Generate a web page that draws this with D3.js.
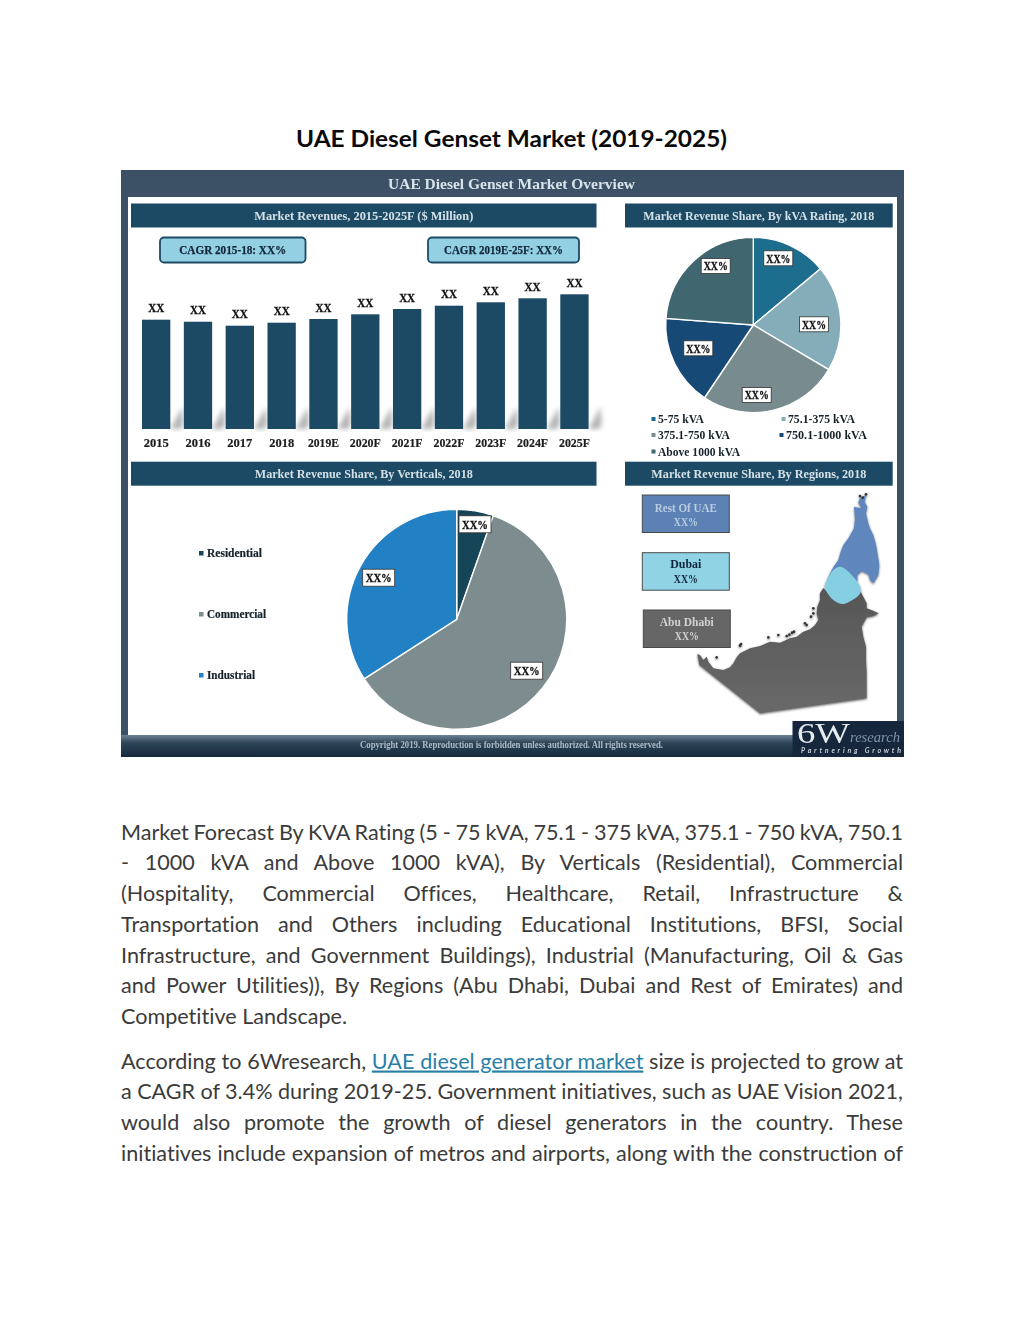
<!DOCTYPE html>
<html>
<head>
<meta charset="utf-8">
<title>UAE Diesel Genset Market (2019-2025)</title>
<script src="https://cdnjs.cloudflare.com/ajax/libs/d3/7.8.5/d3.min.js"></script>
<style>
  html, body { margin: 0; padding: 0; background: #fff; }
  svg { display: block; }
  text { font-variant-ligatures: none; }
</style>
</head>
<body>
<div id="wrapper"></div>
<script>
const years = ["2015", "2016", "2017", "2018", "2019E", "2020F", "2021F", "2022F", "2023F", "2024F", "2025F"];
const revenues = [109.3, 107.3, 103.3, 106.3, 110, 114.7, 120, 123.3, 126.7, 130.7, 134.7];

const kvaRatings = ["5-75 kVA", "75.1-375 kVA", "375.1-750 kVA", "750.1-1000 kVA", "Above 1000 kVA"];
const kvaShares = [13.9, 19.6, 25.9, 16.8, 23.8];

const verticals = ["Residential", "Commercial", "Industrial"];
const verticalShares = [5.4, 60.5, 34.1];

const regions = ["Rest Of UAE", "Dubai", "Abu Dhabi"];

// map outlines, in map units (the scales further down place them)
const restOutline = [[750,113],[768,105],[764,125],[772,140],[768,160],[775,190],[780,205],[790,225],[797,250],[800,265],[808,315],[805,345],[790,370],[780,360],[775,343],[755,333],[742,345],[742,365],[700,323],[670,330],[645,375],[660,340],[672,318],[685,300],[692,275],[700,255],[715,235],[732,205],[735,175],[732,140],[755,145],[745,128]];
const dubaiOutline = [[645,375],[670,330],[700,323],[742,365],[752,395],[735,415],[700,432],[670,420],[650,395]];
const abuDhabiOutline = [[640,384],[650,395],[670,420],[700,432],[735,415],[752,395],[770,430],[770,445],[790,452],[806,460],[790,468],[770,472],[755,500],[760,530],[768,560],[768,600],[770,640],[770,715],[450,760],[268,615],[262,582],[270,585],[280,600],[290,590],[295,605],[310,625],[340,630],[360,622],[370,610],[380,592],[390,580],[420,565],[450,558],[480,545],[510,548],[540,535],[560,530],[580,515],[600,508],[615,495],[625,480],[620,460],[622,440],[630,420],[630,400]];
const islands = [[393,552],[390,557],[530,528],[538,524],[546,518],[585,490],[590,495],[475,532],[505,525],[610,445],[610,460],[603,470],[320,592],[552,515],[750,108],[758,113],[768,103]];

const bodyLines = [
  "Market Forecast By KVA Rating (5 - 75 kVA, 75.1 - 375 kVA, 375.1 - 750 kVA, 750.1",
  "- 1000 kVA and Above 1000 kVA), By Verticals (Residential), Commercial",
  "(Hospitality, Commercial Offices, Healthcare, Retail, Infrastructure &",
  "Transportation and Others including Educational Institutions, BFSI, Social",
  "Infrastructure, and Government Buildings), Industrial (Manufacturing, Oil & Gas",
  "and Power Utilities)), By Regions (Abu Dhabi, Dubai and Rest of Emirates) and"
];
const bodyLast = "Competitive Landscape.";
const secondLines = [
  "a CAGR of 3.4% during 2019-25. Government initiatives, such as UAE Vision 2021,",
  "would also promote the growth of diesel generators in the country. These",
  "initiatives include expansion of metros and airports, along with the construction of"
];

const navy = "#1b4a63";
const serif = "'Liberation Serif', serif";
const sans = "Lato, 'Open Sans', sans-serif";

const wrapper = d3.select("#wrapper").append("svg")
  .attr("width", 1024)
  .attr("height", 1325);

const defs = wrapper.append("defs");
defs.append("filter").attr("id", "soft")
  .append("feGaussianBlur").attr("stdDeviation", 0.55);
defs.append("filter").attr("id", "shade")
  .attr("x", "-50%").attr("width", "200%")
  .append("feGaussianBlur").attr("stdDeviation", 2.5);
defs.append("filter").attr("id", "mapShadow")
  .append("feDropShadow").attr("dx", 0).attr("dy", 1).attr("stdDeviation", 1).attr("flood-color", "#222").attr("flood-opacity", 0.7);
const footGrad = defs.append("linearGradient").attr("id", "foot").attr("x1", 0).attr("x2", 0).attr("y1", 0).attr("y2", 1);
footGrad.append("stop").attr("offset", 0).attr("stop-color", "#6d8397");
footGrad.append("stop").attr("offset", 0.35).attr("stop-color", "#2f4659");
footGrad.append("stop").attr("offset", 1).attr("stop-color", "#15283a");
const landGrad = defs.append("linearGradient").attr("id", "land").attr("x1", 0).attr("x2", 0).attr("y1", 0).attr("y2", 1);
landGrad.append("stop").attr("offset", 0).attr("stop-color", "#565656");
landGrad.append("stop").attr("offset", 1).attr("stop-color", "#696969");

// text squeezed to the width it has in the picture
function label(g, str, x, y, w, size, fill, anchor = "middle", family = serif, weight = "bold") {
  return g.append("text")
    .attr("x", x).attr("y", y)
    .attr("text-anchor", anchor)
    .attr("textLength", w)
    .attr("lengthAdjust", "spacingAndGlyphs")
    .attr("font-family", family)
    .attr("font-weight", weight)
    .attr("font-size", size)
    .attr("fill", fill)
    .text(str);
}

label(wrapper, "UAE Diesel Genset Market (2019-2025)", 296, 146.5, 431, 23.6, "#0a0a0a", "start", sans);

const info = wrapper.append("g").attr("filter", "url(#soft)");

// frame
info.append("rect").attr("x", 121).attr("y", 170).attr("width", 783).attr("height", 587).attr("fill", "#3c5166");
info.append("rect").attr("x", 128).attr("y", 197).attr("width", 769).attr("height", 538).attr("fill", "#fff");
info.append("rect").attr("x", 121).attr("y", 735).attr("width", 783).attr("height", 22).attr("fill", "url(#foot)");
label(info, "UAE Diesel Genset Market Overview", 511.5, 188.5, 247, 15, "#d9e3ea");
label(info, "Copyright 2019. Reproduction is forbidden unless authorized. All rights reserved.", 360, 748, 303, 9.5, "#aebcc7", "start");

// section headers
const headers = [
  { text: "Market Revenues, 2015-2025F ($ Million)", x: 131, y: 203.5, w: 465.5, tw: 219 },
  { text: "Market Revenue Share, By kVA Rating, 2018", x: 625, y: 203.5, w: 267.7, tw: 231 },
  { text: "Market Revenue Share, By Verticals, 2018", x: 131, y: 461.7, w: 465.5, tw: 218 },
  { text: "Market Revenue Share, By Regions, 2018", x: 625, y: 461.7, w: 267.7, tw: 215 }
];
headers.forEach(h => {
  info.append("rect").attr("x", h.x).attr("y", h.y).attr("width", h.w).attr("height", 24).attr("fill", navy);
  label(info, h.text, h.x + h.w / 2, h.y + 16, h.tw, 13, "#d5e1e8");
});

// CAGR pills
const pills = [
  { text: "CAGR 2015-18: XX%", x: 160, w: 145.5, tw: 107 },
  { text: "CAGR 2019E-25F: XX%", x: 428, w: 151, tw: 119 }
];
pills.forEach(p => {
  info.append("rect").attr("x", p.x).attr("y", 237.5).attr("width", p.w).attr("height", 25).attr("rx", 4)
    .attr("fill", "#93d0e3").attr("stroke", navy).attr("stroke-width", 1.8);
  label(info, p.text, p.x + p.w / 2, 254.2, p.tw, 12.5, "#12283a").attr("stroke", "#12283a").attr("stroke-width", 0.25);
});

// bars
const baseY = 429;
const xScale = d3.scaleBand().domain(years).range([142, 588.6]).paddingInner(0.323);
const yScale = d3.scaleLinear().domain([0, 140]).range([baseY, baseY - 140]);

const shadows = info.append("g").attr("filter", "url(#shade)");
shadows.selectAll("path").data(years).join("path")
  .attr("d", d => {
    const r = xScale(d) + xScale.bandwidth();
    return `M${r},${baseY}L${r + 12},${baseY - 22}L${r + 13},${baseY - 6}L${r + 11},${baseY}Z`;
  })
  .attr("fill", "#b4b4b4");

info.selectAll("rect.bar").data(revenues).join("rect")
  .attr("class", "bar")
  .attr("x", (d, i) => xScale(years[i]))
  .attr("y", d => yScale(d))
  .attr("width", xScale.bandwidth())
  .attr("height", d => baseY - yScale(d))
  .attr("fill", navy);

revenues.forEach((d, i) => {
  label(info, "XX", xScale(years[i]) + xScale.bandwidth() / 2, yScale(d) - 7.3, 16, 13, "#111").attr("stroke", "#111").attr("stroke-width", 0.3);
});

const axisX = info.append("g")
  .attr("transform", `translate(0,${baseY})`)
  .call(d3.axisBottom(xScale).tickSize(0).tickPadding(9.5));
axisX.select(".domain").remove();
axisX.selectAll("text")
  .attr("font-family", serif).attr("font-weight", "bold").attr("font-size", 12.5).attr("fill", "#1c1c1c")
  .attr("stroke", "#1c1c1c").attr("stroke-width", 0.2)
  .attr("textLength", d => d.length > 4 ? 31 : 25)
  .attr("lengthAdjust", "spacingAndGlyphs");

// share pies
function drawPie(values, colors, cx, cy, radius, offsets, boxW, boxH, textW) {
  const arcs = d3.pie().sort(null)(values);
  const arcGen = d3.arc().innerRadius(0).outerRadius(radius);
  const g = info.append("g").attr("transform", `translate(${cx},${cy})`);
  g.selectAll("path").data(arcs).join("path")
    .attr("d", arcGen)
    .attr("fill", (d, i) => colors[i])
    .attr("stroke", "#fff")
    .attr("stroke-width", 1.4);
  offsets.forEach(o => {
    g.append("rect").attr("x", o[0] - boxW / 2).attr("y", o[1] - boxH / 2).attr("width", boxW).attr("height", boxH)
      .attr("fill", "#fff").attr("stroke", "#333").attr("stroke-width", 0.8);
    label(g, "XX%", o[0], o[1] + 4.4, textW, 13, "#111").attr("stroke", "#111").attr("stroke-width", 0.3);
  });
}

const kvaColors = ["#1f6d8e", "#84adb9", "#788b8e", "#154a74", "#3f6670"];
drawPie(kvaShares, kvaColors, 753.3, 325, 87.6,
  [[25, -66.7], [60.7, -0.7], [3.4, 70], [-55, 23.3], [-37.6, -59]], 29, 15, 24);

const verticalColors = ["#154559", "#7d8d8f", "#2480c4"];
drawPie(verticalShares, verticalColors, 456.7, 619.3, 110,
  [[18.3, -95], [70, 51.4], [-78, -41.6]], 32, 17, 26);

// legends
const kvaLegendAt = [[658, 423, 46], [788, 423, 67], [658, 439, 72], [786, 439, 81], [658, 455.5, 82]];
kvaRatings.forEach((name, i) => {
  const at = kvaLegendAt[i];
  info.append("rect").attr("x", at[0] - 6.5).attr("y", at[1] - 6).attr("width", 4).attr("height", 4).attr("fill", kvaColors[i]);
  label(info, name, at[0], at[1], at[2], 12.5, "#16222b", "start");
});

const verticalLegendY = d3.scalePoint().domain(verticals).range([557, 679]);
const verticalLegendW = [55, 59, 48];
verticals.forEach((name, i) => {
  info.append("rect").attr("x", 199).attr("y", verticalLegendY(name) - 6).attr("width", 4.5).attr("height", 4.5).attr("fill", verticalColors[i]);
  label(info, name, 207, verticalLegendY(name), verticalLegendW[i], 12, "#16222b", "start").attr("stroke", "#16222b").attr("stroke-width", 0.2);
});

// region map
const mapX = d3.scaleLinear().domain([0, 882]).range([610, 904]);
const mapY = d3.scaleLinear().domain([0, 900]).range([460, 760]);
const mapLine = d3.line().x(d => mapX(d[0])).y(d => mapY(d[1])).curve(d3.curveLinearClosed);
const mapRound = d3.line().x(d => mapX(d[0])).y(d => mapY(d[1])).curve(d3.curveCardinalClosed);

const mapG = info.append("g").attr("filter", "url(#mapShadow)");
mapG.append("path").attr("d", mapLine(abuDhabiOutline)).attr("fill", "url(#land)");
mapG.append("path").attr("d", mapLine(restOutline)).attr("fill", "#5f87bd");
mapG.append("path").attr("d", mapRound(dubaiOutline)).attr("fill", "#86cfe2");
mapG.selectAll("circle").data(islands).join("circle")
  .attr("cx", d => mapX(d[0])).attr("cy", d => mapY(d[1])).attr("r", 1.3).attr("fill", "#333");

const regionBoxes = [
  { y: 495, x: 642.3, fill: "#5b82b5", color: "#bccde2", tw: 62, by: 511.7, py: 526 },
  { y: 552.7, x: 642.3, fill: "#8fd3e5", color: "#10243a", tw: 31, by: 568.3, py: 583 },
  { y: 610, x: 643.3, fill: "#666666", color: "#d2d2d2", tw: 54, by: 626, py: 640 }
];
regions.forEach((name, i) => {
  const b = regionBoxes[i];
  info.append("rect").attr("x", b.x).attr("y", b.y).attr("width", 87).attr("height", 37.5)
    .attr("fill", b.fill).attr("stroke", "#4a4a4a").attr("stroke-width", 1);
  label(info, name, b.x + 43.5, b.by, b.tw, 12, b.color);
  label(info, "XX%", b.x + 43.5, b.py, 24, 12, b.color);
});

// logo
info.append("rect").attr("x", 792.5).attr("y", 721).attr("width", 111.5).attr("height", 36).attr("fill", "#14283c");
label(info, "6W", 797, 742.5, 53, 29, "#e6ebee", "start", serif, "normal");
label(info, "research", 850, 742, 50, 14, "#7f93a6", "start", serif, "normal").attr("font-style", "italic");
label(info, "Partnering Growth", 801, 753, 100, 7, "#c8d2da", "start", sans).attr("font-style", "italic").attr("lengthAdjust", "spacing");

// body text, justified a line at a time
const leftX = 121;
const textW = 782;
const bodySize = 21.6;

function bodyText(y) {
  return wrapper.append("text")
    .attr("x", leftX).attr("y", y)
    .attr("font-family", sans)
    .attr("font-size", bodySize)
    .attr("fill", "#3b3b3b");
}
function justify(t, str) {
  const spaces = str.split(" ").length - 1;
  t.attr("word-spacing", (textW - t.node().getComputedTextLength()) / spaces);
}

bodyLines.forEach((str, i) => {
  const t = bodyText(839.5 + i * 30.75).text(str);
  justify(t, str);
});
bodyText(839.5 + 6 * 30.75).text(bodyLast)
  .attr("textLength", 226).attr("lengthAdjust", "spacingAndGlyphs");

const linkLine = bodyText(1068.5);
linkLine.append("tspan").text("According to 6Wresearch, ");
linkLine.append("tspan").text("UAE diesel generator market")
  .attr("fill", "#2a7fa6").attr("text-decoration", "underline");
linkLine.append("tspan").text(" size is projected to grow at");
justify(linkLine, "According to 6Wresearch, UAE diesel generator market size is projected to grow at");

secondLines.forEach((str, i) => {
  const t = bodyText(1099.25 + i * 30.75).text(str);
  justify(t, str);
});
</script>
</body>
</html>
